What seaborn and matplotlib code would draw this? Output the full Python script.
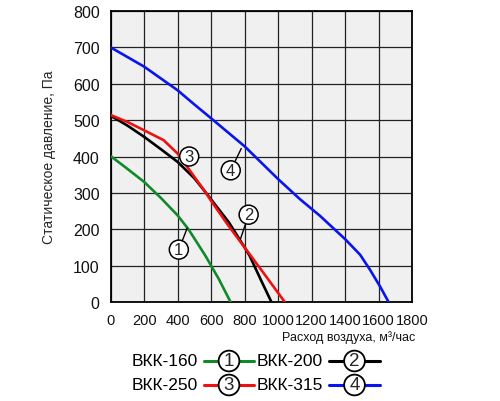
import numpy as np
import pandas as pd
import seaborn as sns
import matplotlib
matplotlib.use("Agg")
import matplotlib.pyplot as plt
from matplotlib.lines import Line2D

sns.set_theme(style="white")
plt.rcParams['font.family'] = ['Liberation Sans', 'DejaVu Sans']

# data
x160 = [0, 86, 200, 300, 400, 466, 566, 646, 716]
y160 = [401, 371, 330, 286, 238, 199, 127, 63, 0]
x200 = [0, 100, 200, 300, 400, 500, 566, 706, 800, 830, 900, 960]
y200 = [512, 485, 454, 420, 385, 340, 302, 219, 150, 127, 58, 0]
x250 = [0, 100, 200, 316, 400, 486, 566, 600, 700, 800, 866, 900, 1000, 1040]
y250 = [514, 495, 472, 445, 408, 353, 302, 278, 212, 150, 109, 88, 25, 0]
x315 = [0, 200, 400, 500, 600, 800, 1000, 1130, 1250, 1400, 1490, 1550, 1610, 1660]
y315 = [700, 647, 582, 543, 505, 428, 338, 283, 237, 173, 130, 88, 42, 0]

names = ["ВКК-160", "ВКК-200", "ВКК-250", "ВКК-315"]
colors = ["#118a2a", "#000000", "#ee1111", "#0a14ee"]
xticks = [0, 200, 400, 600, 800, 1000, 1200, 1400, 1600, 1800]
yticks = [0, 100, 200, 300, 400, 500, 600, 700, 800]

# label positions (circle centre, leader end) in data coords
label_pos = {"1": ((407, 144), (457, 203)),
             "2": ((824, 240), (775, 173)),
             "3": ((469, 400), (420, 402)),
             "4": ((717, 362), (780, 422))}

frames = []
for n, xs, ys in zip(names, [x160, x200, x250, x315], [y160, y200, y250, y315]):
    frames.append(pd.DataFrame({"x": xs, "y": ys, "fan": n}))
df = pd.concat(frames, ignore_index=True)

fig = plt.figure(figsize=(5.0, 4.02), dpi=100)
ax = fig.add_axes([0.2214, 0.2463, 0.6026, 0.7238])
ax.set_facecolor("#f0f0f0")

sns.lineplot(data=df, x="x", y="y", hue="fan", palette=dict(zip(names, colors)),
             sort=False, estimator=None, linewidth=1.9, legend=False, ax=ax, zorder=3)
for l in ax.lines:
    l.set_solid_joinstyle("round")

ax.set_xlim(0, 1800)
ax.set_ylim(0, 800)
ax.set_xticks(xticks)
ax.set_yticks(yticks)
ax.grid(True, color="#222222", linewidth=0.9)
ax.set_axisbelow(True)
for s in ax.spines.values():
    s.set_color("black")
    s.set_linewidth(1.3)
ax.tick_params(axis="both", length=0, colors="#111111")
ax.tick_params(axis="y", labelsize=11.5, pad=8)
ax.tick_params(axis="x", labelsize=10.5, pad=8)
ax.set_xlabel("")
ax.set_ylabel("Статическое давление, Па", fontsize=10, labelpad=12)

for lab, (c, e) in label_pos.items():
    ax.annotate(lab, xy=e, xytext=c, fontsize=12, ha="center", va="center",
                bbox=dict(boxstyle="circle,pad=0.12", fc="white", ec="black", lw=1.1),
                arrowprops=dict(arrowstyle="-", color="black", lw=1.0, shrinkA=0, shrinkB=0),
                zorder=5)

fig.text(0.83, 1 - 338 / 402, "Расход воздуха, м³/час", fontsize=9,
         ha="right", va="center", color="#111111")

# legend rows
rows = [(1 - 362 / 402, [("ВКК-160", colors[0], "1"), ("ВКК-200", colors[1], "2")]),
        (1 - 386 / 402, [("ВКК-250", colors[2], "3"), ("ВКК-315", colors[3], "4")])]
for yfig, items in rows:
    for (name, col, num), (tx, lx0, lx1) in zip(items, [(198, 204, 254), (323, 329, 380)]):
        fig.text(tx / 500, yfig, name, fontsize=12.5, ha="right", va="center", color="black")
        fig.add_artist(Line2D([lx0 / 500, lx1 / 500], [yfig, yfig], color=col, lw=2.2,
                              transform=fig.transFigure))
        fig.text((lx0 + lx1) / 2 / 500, yfig, num, fontsize=13.5, ha="center", va="center",
                 bbox=dict(boxstyle="circle,pad=0.1", fc="white", ec="black", lw=1.3))

fig.savefig("out.png", dpi=100)
